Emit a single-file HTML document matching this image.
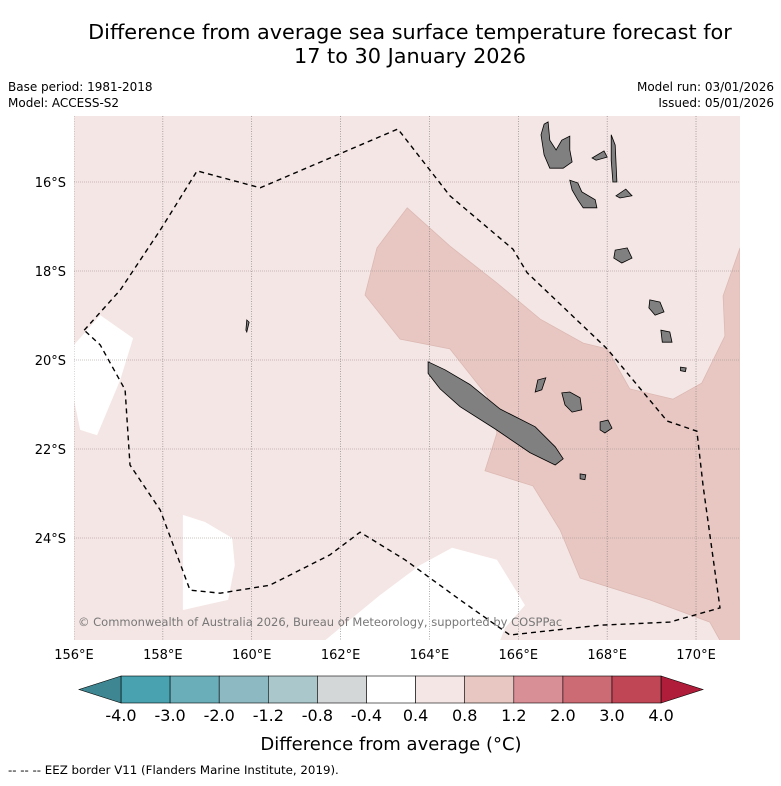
<!DOCTYPE html>
<html><head><meta charset="utf-8"><style>
body{margin:0;background:#fff;font-family:"Liberation Sans","DejaVu Sans",sans-serif}
svg text{font-family:"DejaVu Sans","Liberation Sans",sans-serif}
</style></head><body>
<svg id="c" width="781" height="781" viewBox="0 0 781 781">
<text x="410" y="39" font-size="20.8" text-anchor="middle">Difference from average sea surface temperature forecast for</text>
<text x="410" y="63" font-size="20.8" text-anchor="middle">17 to 30 January 2026</text>
<text x="8" y="91" font-size="12">Base period: 1981-2018</text>
<text x="8" y="107" font-size="12">Model: ACCESS-S2</text>
<text x="774" y="91" font-size="12" text-anchor="end">Model run: 03/01/2026</text>
<text x="774" y="107" font-size="12" text-anchor="end">Issued: 05/01/2026</text>
<g id="map"></g>
<g id="cbar"></g>
<text x="391" y="750" font-size="18" text-anchor="middle">Difference from average (°C)</text>
<text x="8" y="774" font-size="11.8">--  --  -- EEZ border V11 (Flanders Marine Institute, 2019).</text>
</svg>
<script>
const lonTicks=[156,158,160,162,164,166,168,170];
const latTicks=[-16,-18,-20,-22,-24];
const cbBounds=["-4.0","-3.0","-2.0","-1.2","-0.8","-0.4","0.4","0.8","1.2","2.0","3.0","4.0"];
const cbColors=["#48a2b0","#6aaeb9","#8db9c3","#aac8cb","#d3d7d8","#ffffff","#f4e6e4","#e8c7c2","#d98f96","#cd6b74","#c04656"];
const warmZone=[[163.50,-16.58],[164.46,-17.44],[165.52,-18.27],[166.49,-19.08],[167.46,-19.62],[168.00,-19.75],[168.51,-20.65],[169.48,-20.88],[170.13,-20.52],[170.65,-19.46],[170.61,-18.56],[170.99,-17.48],[171.0,-26.3],[170.54,-26.3],[170.31,-25.89],[168.96,-25.39],[167.39,-24.90],[166.94,-23.82],[166.33,-22.83],[165.25,-22.49],[165.52,-21.64],[165.30,-20.81],[164.46,-19.75],[163.34,-19.53],[162.55,-18.54],[162.82,-17.48]];
const neutralZones=[
[[156,-19.66],[156.59,-18.99],[157.33,-19.51],[157.04,-20.45],[156.52,-21.69],[156.14,-21.57],[156,-20.90]],
[[158.45,-23.48],[158.95,-23.64],[159.56,-24.00],[159.62,-24.61],[159.47,-25.39],[158.84,-25.53],[158.45,-25.62]],
[[161.65,-26.3],[162.89,-25.28],[163.79,-24.61],[164.51,-24.22],[165.52,-24.49],[166.15,-25.51],[165.70,-26.02],[165.59,-26.3]]];
const eez=[[156.23,-19.33],[157.04,-18.43],[157.94,-17.08],[158.77,-15.75],[160.19,-16.13],[163.29,-14.81],[164.46,-16.31],[165.88,-17.51],[166.20,-18.04],[168.00,-19.75],[169.35,-21.37],[170.02,-21.60],[170.16,-22.83],[170.54,-25.57],[169.41,-25.89],[167.84,-25.96],[165.81,-26.18],[164.69,-25.39],[163.45,-24.49],[162.44,-23.87],[161.76,-24.38],[160.41,-25.06],[159.29,-25.24],[158.61,-25.17],[157.94,-23.37],[157.26,-22.36],[157.15,-20.67],[156.59,-19.66],[156.23,-19.33]];
const land=[
[[163.97,-20.04],[164.35,-20.22],[164.91,-20.55],[165.59,-21.10],[166.38,-21.50],[166.83,-21.95],[167.01,-22.22],[166.83,-22.36],[166.26,-22.08],[165.48,-21.55],[164.69,-21.05],[164.24,-20.65],[163.97,-20.30]],
[[166.51,-14.94],[166.58,-14.70],[166.67,-14.65],[166.71,-15.06],[166.85,-15.28],[166.98,-15.06],[167.16,-14.97],[167.16,-15.28],[167.21,-15.55],[167.01,-15.69],[166.71,-15.69],[166.58,-15.39]],
[[167.16,-15.96],[167.34,-16.02],[167.43,-16.22],[167.73,-16.40],[167.77,-16.58],[167.46,-16.58],[167.34,-16.40],[167.21,-16.18]],
[[168.20,-16.31],[168.42,-16.16],[168.56,-16.31],[168.29,-16.36]],
[[168.18,-17.53],[168.45,-17.48],[168.56,-17.71],[168.33,-17.82],[168.15,-17.71]],
[[168.09,-14.94],[168.18,-15.17],[168.22,-16.0],[168.13,-16.0],[168.09,-15.51]],
[[167.66,-15.46],[167.93,-15.30],[168.0,-15.44],[167.75,-15.51]],
[[166.98,-20.74],[167.16,-20.72],[167.39,-20.85],[167.43,-21.12],[167.21,-21.17],[167.05,-21.01]],
[[167.84,-21.39],[168.02,-21.35],[168.11,-21.53],[167.95,-21.64],[167.84,-21.57]],
[[166.44,-20.45],[166.62,-20.40],[166.53,-20.67],[166.38,-20.72]],
[[167.39,-22.56],[167.52,-22.58],[167.50,-22.69],[167.39,-22.67]],
[[168.96,-18.65],[169.19,-18.70],[169.28,-18.92],[169.08,-18.99],[168.94,-18.83]],
[[169.21,-19.33],[169.41,-19.37],[169.46,-19.60],[169.24,-19.60]],
[[169.65,-20.16],[169.78,-20.18],[169.76,-20.26],[169.65,-20.24]],
[[159.89,-19.10],[159.94,-19.15],[159.89,-19.37],[159.87,-19.33]]];
const NS='http://www.w3.org/2000/svg';
const X0=74,X1=740,Y0=116,Y1=640;
function xs(lon){return 74+(lon-156)*44.43;}
function ys(lat){return 182+(-16-lat)*44.5;}
function mk(tag,attrs,parent){const e=document.createElementNS(NS,tag);for(const k in attrs)e.setAttribute(k,attrs[k]);parent.appendChild(e);return e;}
function pts(a){return a.map(p=>xs(p[0]).toFixed(1)+','+ys(p[1]).toFixed(1)).join(' ');}
const map=document.getElementById('map');
const cpth=mk('clipPath',{id:'clip'},map);
mk('rect',{x:X0,y:Y0,width:X1-X0,height:Y1-Y0},cpth);
const bg=mk('rect',{x:X0,y:Y0,width:X1-X0,height:Y1-Y0,fill:'#f4e6e4'},map);


const g=mk('g',{'clip-path':'url(#clip)'},map);
const wz=mk('polygon',{points:pts(warmZone),fill:'#e8c7c2',stroke:'#dcb8b3','stroke-width':0.8},g);


neutralZones.forEach(z=>{const p=mk('polygon',{points:pts(z),fill:'#ffffff'},g);

});
lonTicks.forEach(l=>{const ln=mk('line',{x1:xs(l),x2:xs(l),y1:Y0,y2:Y1,stroke:'#777','stroke-width':0.6,'stroke-dasharray':'1 1.5'},g);


const t=mk('text',{x:xs(l),y:659,'font-size':13,'text-anchor':'middle'},map);t.textContent=l+'°E';

});
latTicks.forEach(l=>{const ln=mk('line',{x1:X0,x2:X1,y1:ys(l),y2:ys(l),stroke:'#9a8a8a','stroke-width':0.6,'stroke-dasharray':'1 1'},g);


const t=mk('text',{x:66,y:ys(l)+5,'font-size':13,'text-anchor':'end'},map);t.textContent=(-l)+'°S';

});
land.forEach(z=>{const p=mk('polygon',{points:pts(z),fill:'#808080',stroke:'#000','stroke-width':0.8},g);

});
const ez=mk('polyline',{points:pts(eez),fill:'none',stroke:'#000','stroke-width':1.4,'stroke-dasharray':'5 4'},g);


const cp=mk('text',{x:78,y:626,'font-size':11.5,fill:'#777'},map);cp.textContent='© Commonwealth of Australia 2026, Bureau of Meteorology, supported by COSPPac';


const cb=document.getElementById('cbar');
const cx0=121,cw=49.1,cy=676,ch=27;
cbColors.forEach((c,i)=>{const r=mk('rect',{x:cx0+i*cw,y:cy,width:cw,height:ch,fill:c,stroke:'#000','stroke-width':0.6},cb);

});
const lt=mk('polygon',{points:`${cx0},${cy} ${cx0},${cy+ch} 79,${cy+ch/2}`,fill:'#3e8691',stroke:'#000','stroke-width':0.6},cb);


const xe=cx0+cbColors.length*cw;
const rt=mk('polygon',{points:`${xe},${cy} ${xe},${cy+ch} 703,${cy+ch/2}`,fill:'#b01d3a',stroke:'#000','stroke-width':0.6},cb);


cbBounds.forEach((b,i)=>{const t=mk('text',{x:cx0+i*cw,y:721,'font-size':16,'text-anchor':'middle'},cb);t.textContent=b;

});
</script>
</body></html>
